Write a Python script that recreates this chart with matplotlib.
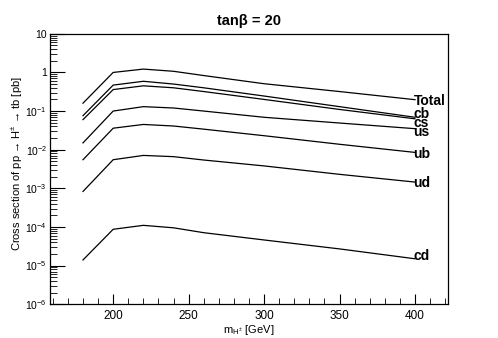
import matplotlib
matplotlib.use('Agg')
import matplotlib.pyplot as plt
from matplotlib.ticker import FixedLocator, MultipleLocator, NullFormatter

plt.rcParams['font.family'] = ['Liberation Sans', 'DejaVu Sans']
plt.rcParams['mathtext.fontset'] = 'custom'
plt.rcParams['mathtext.rm'] = 'Liberation Sans'
plt.rcParams['mathtext.it'] = 'Liberation Sans:italic'
plt.rcParams['mathtext.bf'] = 'Liberation Sans:bold'

# charged Higgs mass points [GeV]
mass = [180, 200, 220, 240, 260, 300, 350, 400]

# cross sections [pb]
xs_total = [0.16, 1.0, 1.22, 1.07, 0.83, 0.51, 0.32, 0.197]
xs_cb = [0.076, 0.47, 0.59, 0.50, 0.40, 0.245, 0.13, 0.069]
xs_cs = [0.060, 0.36, 0.45, 0.40, 0.32, 0.20, 0.11, 0.063]
xs_us = [0.015, 0.10, 0.13, 0.12, 0.10, 0.069, 0.049, 0.035]
xs_ub = [0.0055, 0.036, 0.045, 0.041, 0.034, 0.023, 0.0138, 0.0085]
xs_ud = [0.00083, 0.0055, 0.0071, 0.0066, 0.0054, 0.0038, 0.0023, 0.00145]
xs_cd = [1.4e-5, 8.7e-5, 1.1e-4, 9.5e-5, 7.1e-5, 4.6e-5, 2.7e-5, 1.5e-5]

names = ['Total', 'cb', 'cs', 'us', 'ub', 'ud', 'cd']
series = [xs_total, xs_cb, xs_cs, xs_us, xs_ub, xs_ud, xs_cd]
# where the channel names sit at the right end of the curves
label_y = [0.186, 0.085, 0.050, 0.029, 0.0079, 0.00141, 1.74e-5]

y_ticks = [1e-6, 1e-5, 1e-4, 1e-3, 1e-2, 1e-1, 1, 10]
y_ticklabels = ['$10^{-6}$', '$10^{-5}$', '$10^{-4}$', '$10^{-3}$',
                '$10^{-2}$', '$10^{-1}$', '1', '10']

fig = plt.figure(figsize=(4.98, 3.38), dpi=100)
ax = fig.add_axes([0.1, 0.1, 0.8, 0.8])

for vals in series:
    ax.plot(mass, vals, color='black', lw=0.9)

for name, yl in zip(names, label_y):
    ax.text(mass[-1] - 1, yl, name, fontsize=10, fontweight='bold',
            ha='left', va='center', color='black')

ax.set_yscale('log')
ax.set_xlim(158, 422)
ax.set_ylim(1e-6, 10)

ax.yaxis.set_major_locator(FixedLocator(y_ticks))
ax.set_yticklabels(y_ticklabels)
minor = [m * 10.0 ** e for e in range(-6, 1) for m in range(2, 10)]
ax.yaxis.set_minor_locator(FixedLocator(minor))
ax.yaxis.set_minor_formatter(NullFormatter())
ax.xaxis.set_major_locator(MultipleLocator(50))
ax.xaxis.set_minor_locator(MultipleLocator(10))

ax.tick_params(axis='both', which='both', direction='in',
               colors='black', top=False, right=False)
ax.tick_params(axis='x', labelsize=8.5)
ax.tick_params(axis='y', labelsize=7.5)
ax.tick_params(axis='y', which='major', length=11, width=0.8, pad=2)
ax.tick_params(axis='y', which='minor', length=5, width=0.6)
ax.tick_params(axis='x', which='major', length=7, width=0.8, pad=4)
ax.tick_params(axis='x', which='minor', length=4, width=0.6)
for spine in ax.spines.values():
    spine.set_linewidth(0.9)
    spine.set_edgecolor('black')

ax.set_xlabel(r'm$_{\mathrm{H^{\pm}}}$ [GeV]', fontsize=8, labelpad=1)
ax.set_ylabel('Cross section of pp \u2192 H$^{\\pm}$ \u2192 tb [pb]',
              fontsize=8, labelpad=2)
ax.yaxis.set_label_coords(-0.062, 0.52)

fig.text(0.5, 0.938, 'tan\u03b2 = 20', fontsize=10.5, fontweight='bold',
         ha='center', va='center')

fig.savefig('out.png', dpi=100, facecolor='white')
